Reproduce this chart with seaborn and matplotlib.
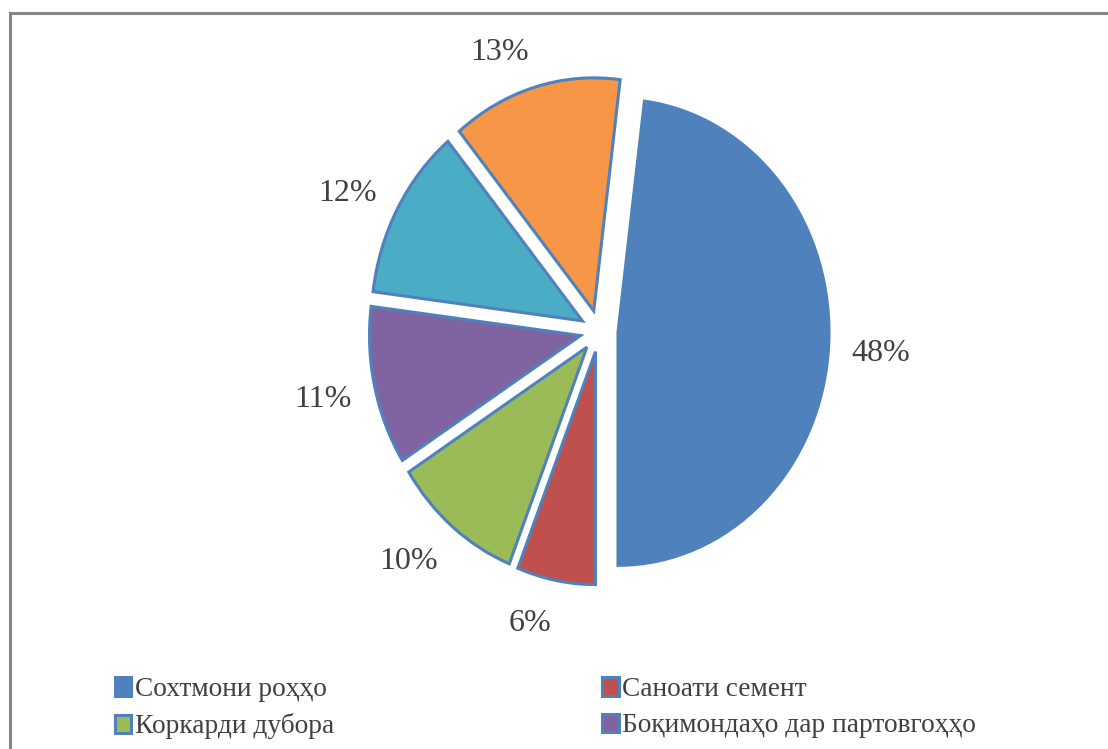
import numpy as np
import matplotlib
matplotlib.use("Agg")
import matplotlib.pyplot as plt
import matplotlib.transforms as mtransforms
from matplotlib.patches import Rectangle
import seaborn as sns

# Shares of each sector (percent), in drawing order (clockwise from the top)
shares = [48, 6, 10, 11, 12, 13]
# Names shown in the legend (first four sectors)
legend_labels = [
    "Сохтмони роҳҳо",
    "Саноати семент",
    "Коркарди дубора",
    "Боқимондаҳо дар партовгоҳҳо",
]
colors = ["#4F81BD", "#C0504D", "#9BBB59", "#8064A2", "#4BACC6", "#F79646"]

sns.set_theme(style="white")
plt.rcParams["font.family"] = ["Liberation Serif", "DejaVu Serif"]

fig = plt.figure(figsize=(11.08, 7.49), dpi=100)
fig.patch.set_facecolor("white")
ax = fig.add_axes([0.28357, 0.13812, 0.51417, 0.83992])

wedges, texts, autotexts = ax.pie(
    shares,
    colors=colors,
    explode=[0.09] * len(shares),
    startangle=82.8,
    counterclock=False,
    autopct="%.0f%%",
    pctdistance=1.11,
    wedgeprops=dict(edgecolor="#4F81BD", linewidth=2.2),
    textprops=dict(fontsize=23, color="#404040"),
)
ax.set_aspect("auto")
ax.set_xlim(-1.35, 1.35)
ax.set_ylim(-1.35, 1.35)
ax.axis("off")

# Place each percentage outside its wedge, anchored toward the pie
fig.canvas.draw()
renderer = fig.canvas.get_renderer()
for w, t in zip(wedges, autotexts):
    ang = np.deg2rad((w.theta1 + w.theta2) / 2)
    t.set_ha("left" if np.cos(ang) > 0 else "right")
    t.set_va("center")
    h = t.get_window_extent(renderer).height
    dy = np.sin(ang) * h / 2 - 4
    t.set_transform(mtransforms.offset_copy(ax.transData, fig=fig, x=0,
                                            y=dy, units="dots"))

# Legend: two columns, rows filled left to right
order = [0, 2, 1, 3]
fig.legend(
    [wedges[i] for i in order],
    [legend_labels[i] for i in order],
    ncol=2,
    loc="upper left",
    bbox_to_anchor=(115 / 1108, 1 - 677 / 749),
    frameon=False,
    fontsize=19.7,
    labelcolor="#404040",
    handlelength=0.6,
    handleheight=0.65,
    handletextpad=0.12,
    columnspacing=9.8,
    labelspacing=0.42,
    borderpad=0,
    borderaxespad=0,
)

# Chart area border
fig.add_artist(Rectangle((9.5 / 1108, -0.1), 1.2, 0.98198 + 0.1,
                         transform=fig.transFigure, fill=False,
                         edgecolor="#868686", linewidth=2.2))

fig.savefig("out.png", dpi=100, facecolor="white")
